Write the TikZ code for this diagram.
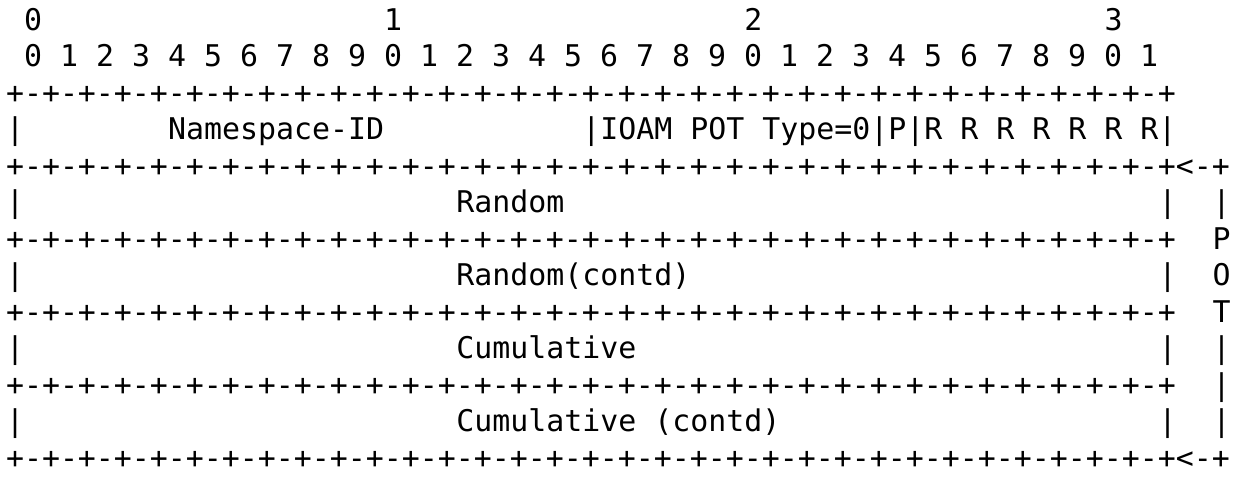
\documentclass[tikz,border=0pt]{standalone}
\usepackage{fontspec}
\setmonofont{DejaVu Sans Mono}
\newcommand\cellpos[2]{({6+18.01*(#1)},{30+36.5*(#2)})}
\newcommand\bordline{+-+-+-+-+-+-+-+-+-+-+-+-+-+-+-+-+-+-+-+-+-+-+-+-+-+-+-+-+-+-+-+-+}
\begin{document}
\begin{tikzpicture}[x=1pt,y=-1pt,
  txt/.style={font=\ttfamily\fontsize{29.9}{36.5}\selectfont\frenchspacing,
    inner sep=0pt, outer sep=0pt, anchor=base west, text=black}]
\useasboundingbox (0,0) rectangle (1233,485);
% bit numbering
\node[txt] (t0) at \cellpos{1}{0} {0};
\node[txt] (t1) at \cellpos{21}{0} {1};
\node[txt] (t2) at \cellpos{41}{0} {2};
\node[txt] (t3) at \cellpos{61}{0} {3};
\node[txt] (bits) at \cellpos{1}{1} {0 1 2 3 4 5 6 7 8 9 0 1 2 3 4 5 6 7 8 9 0 1 2 3 4 5 6 7 8 9 0 1};
% row 1
\node[txt] (b0) at \cellpos{0}{2} {\bordline};
\node[txt] (l1) at \cellpos{0}{3} {|};
\node[txt] (ns) at \cellpos{9}{3} {Namespace-ID};
\node[txt] (pt) at \cellpos{32}{3} {|IOAM POT Type=0|P|R R R R R R R|};
\node[txt] (b1) at \cellpos{0}{4} {\bordline<-+};
% Random
\node[txt] (l2) at \cellpos{0}{5} {|};
\node[txt] (rnd) at \cellpos{25}{5} {Random};
\node[txt] (r2) at \cellpos{64}{5} {|};
\node[txt] (s2) at \cellpos{67}{5} {|};
\node[txt] (b2) at \cellpos{0}{6} {\bordline};
\node[txt] (pP) at \cellpos{67}{6} {P};
% Random(contd)
\node[txt] (l3) at \cellpos{0}{7} {|};
\node[txt] (rndc) at \cellpos{25}{7} {Random(contd)};
\node[txt] (r3) at \cellpos{64}{7} {|};
\node[txt] (pO) at \cellpos{67}{7} {O};
\node[txt] (b3) at \cellpos{0}{8} {\bordline};
\node[txt] (pT) at \cellpos{67}{8} {T};
% Cumulative
\node[txt] (l4) at \cellpos{0}{9} {|};
\node[txt] (cum) at \cellpos{25}{9} {Cumulative};
\node[txt] (r4) at \cellpos{64}{9} {|};
\node[txt] (s4) at \cellpos{67}{9} {|};
\node[txt] (b4) at \cellpos{0}{10} {\bordline};
\node[txt] (s5) at \cellpos{67}{10} {|};
% Cumulative (contd)
\node[txt] (l5) at \cellpos{0}{11} {|};
\node[txt] (cumc) at \cellpos{25}{11} {Cumulative (contd)};
\node[txt] (r5) at \cellpos{64}{11} {|};
\node[txt] (s6) at \cellpos{67}{11} {|};
\node[txt] (b5) at \cellpos{0}{12} {\bordline<-+};
\end{tikzpicture}
\end{document}
